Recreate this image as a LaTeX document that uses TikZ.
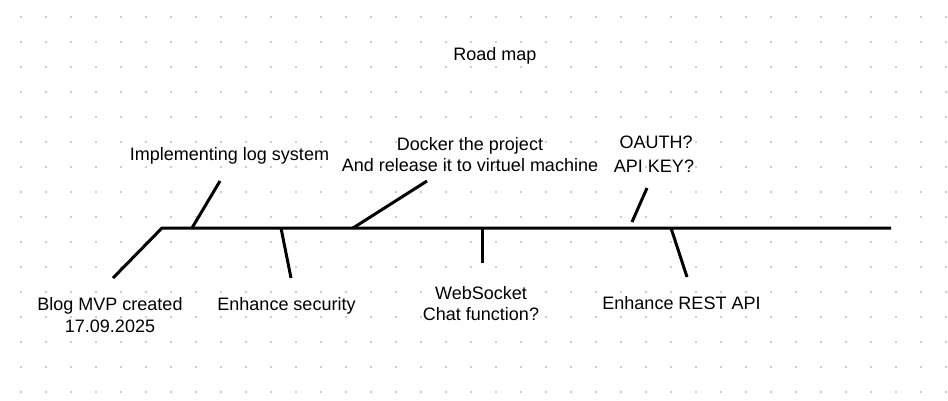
\documentclass[tikz,border=0pt]{standalone}
\usepackage{fontspec}
\setmainfont{Liberation Sans}
\definecolor{dotgray}{HTML}{CCCCCC}
\begin{document}
\begin{tikzpicture}[x=1pt,y=-1pt,
  lbl/.style={inner sep=0pt, anchor=base, font=\fontsize{18}{21}\selectfont},
  branch/.style={line width=3pt, draw=black, line cap=butt},
  spine/.style={line width=3pt, draw=black, line join=miter}]
\useasboundingbox (0,0) rectangle (948,400);
\fill[white] (0,0) rectangle (948,400);
\foreach \i in {0,...,37}{
  \foreach \j in {0,...,15}{
    \fill[dotgray] ({20+25*\i},{15.7+25*\j}) rectangle ++(2,2);
  }
}
% coordinates
\coordinate (start) at (113,278);
\coordinate (m0) at (162,228);
\coordinate (m1) at (891,228);
\coordinate (b1a) at (192,228); \coordinate (b1b) at (220,181);
\coordinate (b2a) at (281,228); \coordinate (b2b) at (291,278);
\coordinate (b3a) at (353,228); \coordinate (b3b) at (427,181);
\coordinate (b4a) at (482,228); \coordinate (b4b) at (482,263);
\coordinate (b5a) at (632,222); \coordinate (b5b) at (647,188);
\coordinate (b6a) at (671,228); \coordinate (b6b) at (687,277);
% spine
\draw[spine] (start) -- (m0) -- (m1);
\draw[branch] (b1a) -- (b1b);
\draw[branch] (b2a) -- (b2b);
\draw[branch] (b3a) -- (b3b);
\draw[branch] (b4a) -- (b4b);
\draw[branch] (b5a) -- (b5b);
\draw[branch] (b6a) -- (b6b);
% labels
\node[lbl] (title) at (495,60) {Road map};
\node[lbl] (impl) at (229.5,160.7) {Implementing log system};
\node[lbl] (dock1) at (470,150.7) {Docker the project};
\node[lbl] (dock2) at (470,171.7) {And release it to virtuel machine};
\node[lbl] (oauth) at (656,148.3) {OAUTH?};
\node[lbl] (apikey) at (654,172.7) {API KEY?};
\node[lbl] (blog1) at (110,310) {Blog MVP created};
\node[lbl] (blog2) at (110,332) {17.09.2025};
\node[lbl] (sec) at (286.5,310) {Enhance security};
\node[lbl] (ws1) at (481,299.5) {WebSocket};
\node[lbl] (ws2) at (481,320.5) {Chat function?};
\node[lbl] (rest) at (681.5,309) {Enhance REST API};
\end{tikzpicture}
\end{document}
